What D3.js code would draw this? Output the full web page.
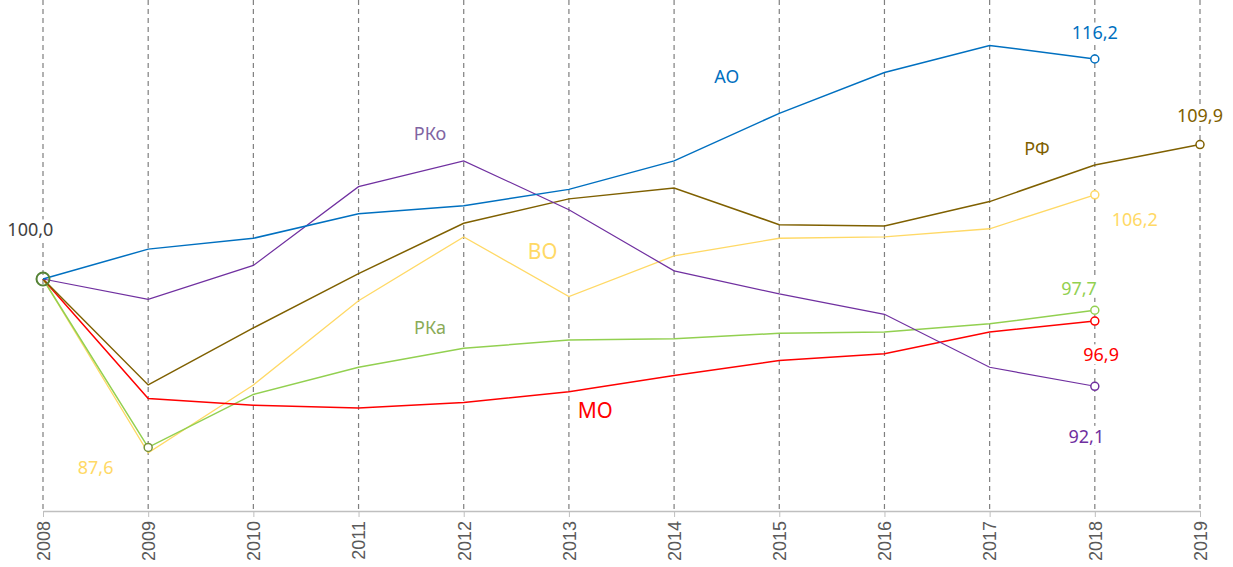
<!DOCTYPE html>
<html>
<head>
<meta charset="utf-8">
<script src="https://cdn.jsdelivr.net/npm/d3@7"></script>
<style>
  body { margin: 0; background: #fff; }
  svg { display: block; font-family: "Noto Sans", "Open Sans", sans-serif; }
</style>
</head>
<body>
<svg id="chart" width="1233" height="567"></svg>
<script>
var years = [2008, 2009, 2010, 2011, 2012, 2013, 2014, 2015, 2016, 2017, 2018, 2019];

var valuesAO  = [100, 102.2, 103.0, 104.8, 105.4, 106.6, 108.7, 112.2, 115.2, 117.2, 116.2];
var valuesRF  = [100, 92.2, 96.4, 100.4, 104.1, 105.9, 106.7, 104.0, 103.9, 105.7, 108.4, 109.9];
var valuesVO  = [100, 87.2, 92.2, 98.4, 103.1, 98.7, 101.7, 103.0, 103.1, 103.7, 106.2];
var valuesRKo = [100, 98.5, 101.0, 106.8, 108.7, 105.1, 100.6, 98.9, 97.4, 93.5, 92.1];
var valuesRKa = [100, 87.6, 91.5, 93.5, 94.9, 95.5, 95.6, 96.0, 96.1, 96.7, 97.7];
var valuesMO  = [100, 91.2, 90.7, 90.5, 90.9, 91.7, 92.9, 94.0, 94.5, 96.1, 96.9];

var seriesNames  = ['ВО', 'РКа', 'МО', 'РФ', 'РКо', 'АО'];
var seriesValues = [valuesVO, valuesRKa, valuesMO, valuesRF, valuesRKo, valuesAO];
var seriesColors = ['#ffd966', '#92d050', '#ff0000', '#7f6000', '#7030a0', '#0070c0'];
var seriesWidths = [1.3, 1.5, 1.5, 1.5, 1.2, 1.5];

// series name labels: [name, year, value, color, size]
var nameLabels = [
  ['АО', 2014.5, 114.9, '#0070c0', 18],
  ['РФ', 2017.45, 109.6, '#7f6000', 18],
  ['ВО', 2012.75, 102.0, '#ffd966', 21],
  ['РКо', 2011.68, 110.7, '#8064a2', 18],
  ['РКа', 2011.68, 96.4, '#8aab58', 18],
  ['МО', 2013.25, 90.3, '#ff0000', 21]
];
// value labels: [text, year, value(anchor), color]
var valueLabels = [
  ['100,0', 2007.88, 103.6, '#404040'],
  ['87,6', 2008.5, 86.1, '#ffd966'],
  ['116,2', 2018, 118.1, '#0070c0'],
  ['109,9', 2019, 112.0, '#7f6000'],
  ['106,2', 2018.38, 104.4, '#ffd966'],
  ['97,7', 2017.85, 99.3, '#92d050'],
  ['96,9', 2018.06, 94.4, '#ff0000'],
  ['92,1', 2017.92, 88.4, '#7030a0']
];

var svg = d3.select('#chart');
var x = d3.scaleLinear().domain([2008, 2019]).range([43, 1200]);
var y = d3.scaleLinear().domain([100, 116.2]).range([279, 59]);
var axisY = 511;

// gridlines
svg.append('g').selectAll('line')
  .data(years).enter().append('line')
  .attr('x1', function(d) { return x(d); })
  .attr('x2', function(d) { return x(d); })
  .attr('y1', 0).attr('y2', axisY)
  .attr('stroke', '#7f7f7f').attr('stroke-width', 1.2)
  .attr('stroke-dasharray', '5,4');

// axis
var axis = d3.axisBottom(x).tickValues(years).tickFormat(d3.format('d')).tickSize(6).tickSizeOuter(0);
var gAxis = svg.append('g').attr('transform', 'translate(0,' + axisY + ')').call(axis);
gAxis.select('.domain').attr('stroke', '#bfbfbf').attr('stroke-width', 1.5);
gAxis.selectAll('.tick line').attr('stroke', '#bfbfbf');
gAxis.selectAll('.tick text')
  .attr('transform', 'rotate(-90)')
  .attr('x', -10).attr('y', 0).attr('dy', '0.35em')
  .style('text-anchor', 'end')
  .attr('fill', '#595959')
  .style('font-size', '18px')
  .style('font-family', '"Liberation Sans", Arial, sans-serif');

var line = d3.line()
  .x(function(d, i) { return x(years[i]); })
  .y(function(d) { return y(d); });

svg.append('g').selectAll('path')
  .data(seriesValues).enter().append('path')
  .attr('d', line)
  .attr('fill', 'none')
  .attr('stroke', function(d, i) { return seriesColors[i]; })
  .attr('stroke-width', function(d, i) { return seriesWidths[i]; });

// value labels with white background
var gVal = svg.append('g');
valueLabels.forEach(function(l) {
  var t = gVal.append('text')
    .attr('x', x(l[1])).attr('y', y(l[2]))
    .attr('text-anchor', 'middle')
    .attr('dy', '0.35em')
    .attr('fill', l[3])
    .style('font-size', '18px')
    .text(l[0]);
  var b = t.node().getBBox();
  gVal.insert('rect', function() { return t.node(); })
    .attr('x', b.x - 2).attr('y', b.y + 2)
    .attr('width', b.width + 4).attr('height', b.height - 4)
    .attr('fill', '#fff');
});

// end markers
var endPoints = [
  [2018, valuesAO[10], '#0070c0'],
  [2019, valuesRF[11], '#7f6000'],
  [2018, valuesVO[10], '#ffd966'],
  [2018, valuesRKa[10], '#92d050'],
  [2018, valuesMO[10], '#ff0000'],
  [2018, valuesRKo[10], '#7030a0'],
  [2009, valuesRKa[1], '#76923c']
];
svg.append('g').selectAll('circle')
  .data(endPoints).enter().append('circle')
  .attr('cx', function(d) { return x(d[0]); })
  .attr('cy', function(d) { return y(d[1]); })
  .attr('r', 4)
  .attr('fill', '#fff')
  .attr('stroke', function(d) { return d[2]; })
  .attr('stroke-width', 1.5);

svg.append('circle')
  .attr('cx', x(2008)).attr('cy', y(100)).attr('r', 6.5)
  .attr('fill', 'none').attr('stroke', '#548235').attr('stroke-width', 2);

// series name labels
svg.append('g').selectAll('text')
  .data(nameLabels).enter().append('text')
  .attr('x', function(d) { return x(d[1]); })
  .attr('y', function(d) { return y(d[2]); })
  .attr('text-anchor', 'middle')
  .attr('dy', '0.35em')
  .attr('fill', function(d) { return d[3]; })
  .style('font-size', function(d) { return d[4] + 'px'; })
  .text(function(d) { return d[0]; });
</script>
</body>
</html>
